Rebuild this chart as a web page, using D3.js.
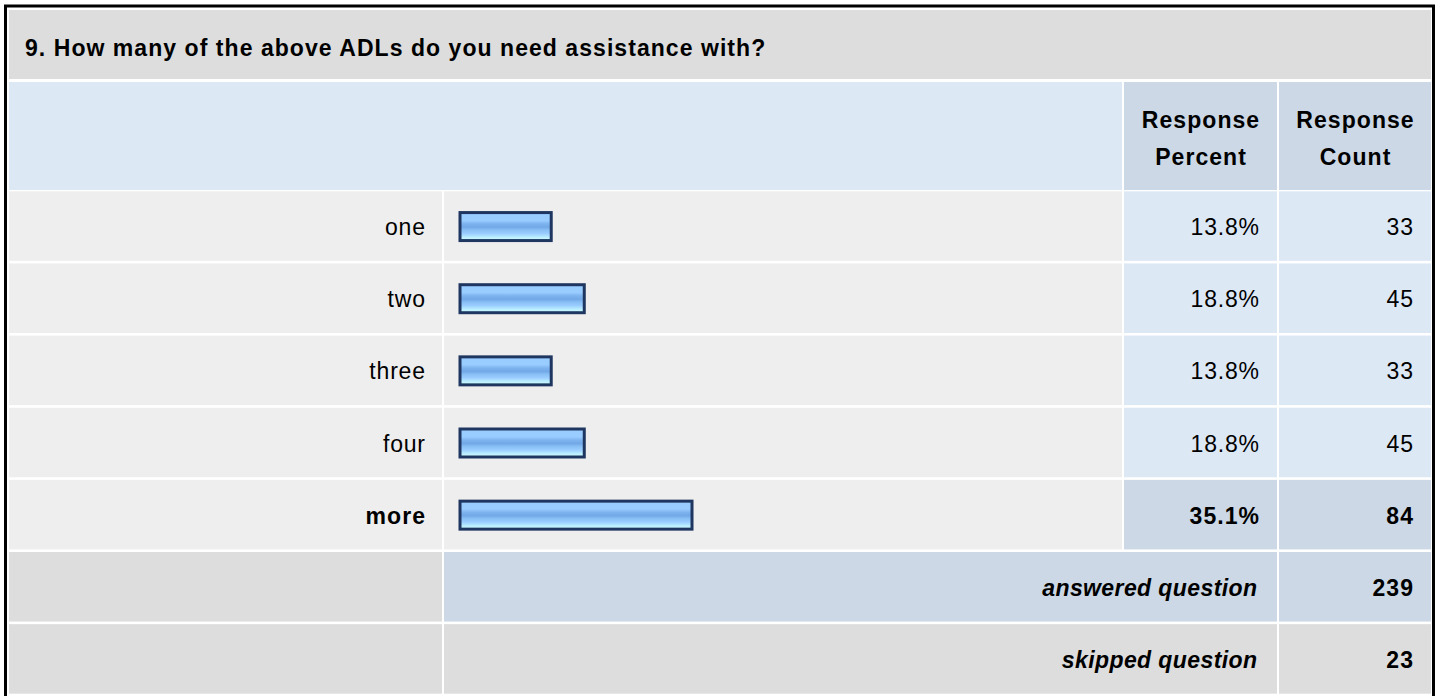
<!DOCTYPE html>
<meta charset="utf-8">
<style>
    body { margin: 0; background: #fff; }
    text { font-family: "Liberation Sans", Arial, sans-serif; fill: #000; }
    .bold { font-weight: bold; }
</style>
<svg width="1440" height="696"></svg>
<script src="https://d3js.org/d3.v7.min.js"></script>
<script>
    var title = "9. How many of the above ADLs do you need assistance with?";
    var categories = ["one", "two", "three", "four", "more"];
    var percents = [13.8, 18.8, 13.8, 18.8, 35.1];
    var counts = [33, 45, 33, 45, 84];
    var headerLines = [["Response", "Percent"], ["Response", "Count"]];
    var summaryLabels = ["answered question", "skipped question"];
    var summaryValues = [239, 23];

    var svg = d3.select("svg"),
        width = +svg.attr("width"),
        height = +svg.attr("height");

    var fontSize = 23;

    // gradient for the bars
    var grad = svg.append("defs").append("linearGradient")
        .attr("id", "barfill")
        .attr("x1", 0).attr("y1", 0).attr("x2", 0).attr("y2", 1);
    [[0, "#99ccff"], [0.28, "#99ccff"], [0.4, "#7db3ee"], [0.52, "#72a8e6"],
     [0.62, "#88bff4"], [0.74, "#99ccff"], [0.88, "#bbeeff"], [1, "#d0ffff"]]
        .forEach(function(s) {
            grad.append("stop").attr("offset", s[0]).attr("stop-color", s[1]);
        });

    // outer frame
    svg.append("rect")
        .attr("x", 5.5).attr("y", 6)
        .attr("width", 1428).attr("height", 700)
        .attr("fill", "#fff")
        .attr("stroke", "#000")
        .attr("stroke-width", 3);

    // column edges
    var cols = [[9, 442], [444, 1122], [1124, 1277], [1279, 1431]];

    function cell(x0, x1, y0, y1, fill) {
        svg.append("rect")
            .attr("x", x0).attr("y", y0)
            .attr("width", x1 - x0).attr("height", y1 - y0)
            .attr("fill", fill);
    }

    function label(txt, x, y, anchor, cls, style) {
        var sp = style === "italic" ? 0.4 : cls === "bold" ? 1.05 : 0.8;
        // trailing letter-spacing shifts end / middle anchored text
        var shift = anchor === "end" ? sp : anchor === "middle" ? sp / 2 : 0;
        return svg.append("text")
            .attr("x", x + shift).attr("y", y)
            .attr("text-anchor", anchor)
            .attr("class", cls || null)
            .style("font-size", fontSize + "px")
            .style("font-style", style || null)
            .style("letter-spacing", sp + "px")
            .text(txt);
    }

    // title row
    cell(9, 1431, 10, 79, "#dddddd");
    label(title, 25, 56, "start", "bold");

    // header row
    cell(cols[0][0], cols[1][1], 82, 190, "#dde8f5");
    [2, 3].forEach(function(c, i) {
        cell(cols[c][0], cols[c][1], 82, 190, "#ccd8e6");
        var cx = (cols[c][0] + cols[c][1]) / 2;
        label(headerLines[i][0], cx, 128, "middle", "bold");
        label(headerLines[i][1], cx, 165, "middle", "bold");
    });

    // body rows
    var rowNames = categories.concat(summaryLabels);
    var y = d3.scaleBand()
        .domain(rowNames)
        .range([190, 695])
        .paddingInner(0.036)
        .paddingOuter(0.018);

    var x = d3.scaleLinear()
        .domain([0, 100])
        .range([460, 1121]);

    var maxP = d3.max(percents);

    categories.forEach(function(cat, i) {
        var top = y(cat), bot = top + y.bandwidth(), mid = (top + bot) / 2;
        var isMax = percents[i] === maxP;
        var valFill = isMax ? "#ccd8e6" : "#dde8f5";
        cell(cols[0][0], cols[0][1], top, bot, "#eeeeee");
        cell(cols[1][0], cols[1][1], top, bot, "#eeeeee");
        cell(cols[2][0], cols[2][1], top, bot, valFill);
        cell(cols[3][0], cols[3][1], top, bot, valFill);

        var cls = isMax ? "bold" : null;
        label(cat, 425, mid + 9, "end", cls);
        label(percents[i].toFixed(1) + "%", 1259, mid + 9, "end", cls);
        label(counts[i], 1413, mid + 9, "end", cls);

        svg.append("rect")
            .attr("x", x(0)).attr("y", mid - 13.5)
            .attr("width", x(percents[i]) - x(0))
            .attr("height", 28)
            .attr("fill", "url(#barfill)")
            .attr("stroke", "#1e3660")
            .attr("stroke-width", 3);
    });

    summaryLabels.forEach(function(lab, i) {
        var top = y(lab), bot = top + y.bandwidth(), mid = (top + bot) / 2;
        var fill = i === 0 ? "#ccd8e6" : "#dddddd";
        cell(cols[0][0], cols[0][1], top, bot, "#dddddd");
        cell(cols[1][0], cols[2][1], top, bot, fill);
        cell(cols[3][0], cols[3][1], top, bot, fill);
        label(lab, 1257, mid + 9, "end", "bold", "italic");
        label(summaryValues[i], 1413, mid + 9, "end", "bold");
    });
</script>
